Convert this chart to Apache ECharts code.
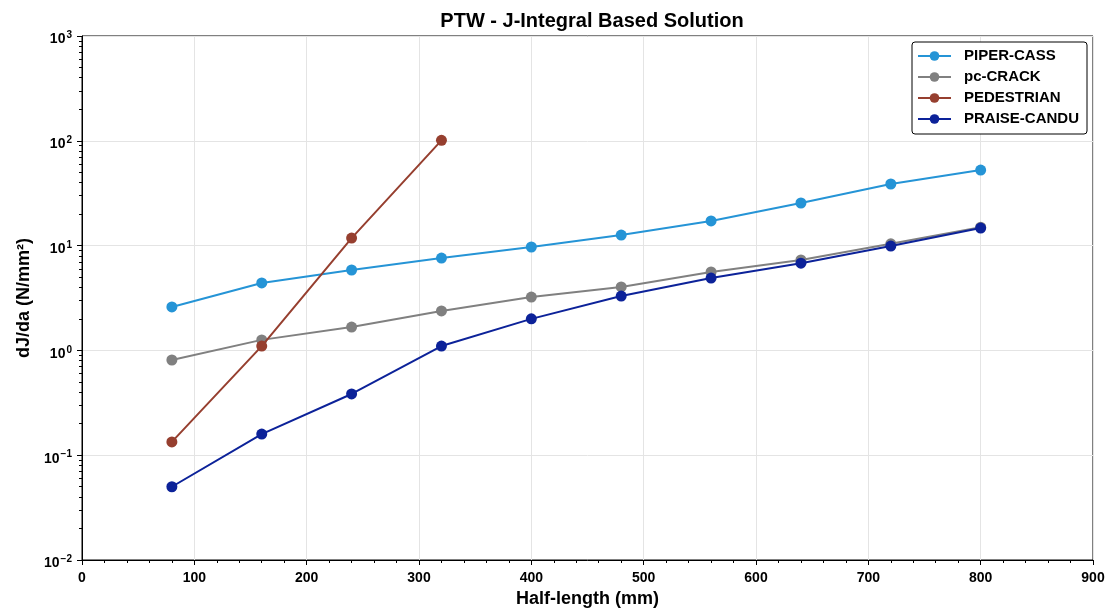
<!DOCTYPE html>
<html>
<head>
<meta charset="utf-8">
<script src="https://cdn.jsdelivr.net/npm/echarts@6/dist/echarts.min.js"></script>
<style>html,body{margin:0;padding:0;background:#fff}#c{width:1108px;height:610px}</style>
</head>
<body>
<div id="c"></div>
<script>
const halfLength = [80, 160, 240, 320, 400, 480, 560, 640, 720, 800];
const piperCass = [2.6, 4.4, 5.85, 7.6, 9.7, 12.6, 17.2, 25.5, 38.7, 52.6];
const pcCrack = [0.81, 1.26, 1.67, 2.38, 3.23, 4.03, 5.6, 7.3, 10.4, 15.0];
const pedestrian = [0.134, 1.10, 11.8, 101];
const praiseCandu = [0.05, 0.159, 0.384, 1.10, 2.0, 3.3, 4.9, 6.8, 9.9, 14.7];
const yExponents = {0.01: '-2', 0.1: '-1', 1: '0', 10: '1', 100: '2', 1000: '3'};

const FONT = 'Liberation Sans, Arial, sans-serif';
const colors = ['#2594d6', '#808080', '#963f2f', '#0c2299'];

function pairs(xs, ys) { return ys.map((v, i) => [xs[i], v]); }

const seriesDefs = [
  ['PIPER-CASS', piperCass],
  ['pc-CRACK', pcCrack],
  ['PEDESTRIAN', pedestrian],
  ['PRAISE-CANDU', praiseCandu]
];

const chart = echarts.init(document.getElementById('c'), null, {renderer: 'canvas'});
chart.setOption({
  animation: false,
  color: colors,
  title: {
    text: 'PTW - J-Integral Based Solution',
    left: 587, top: 6, textAlign: 'center',
    textStyle: {fontFamily: FONT, fontSize: 20, fontWeight: 'bold', color: '#000'}
  },
  grid: {left: 82, right: 15, top: 36, bottom: 50, show: true, borderColor: '#000', borderWidth: 1,
         containLabel: false, outerBoundsMode: 'none'},
  legend: {
    left: 912, top: 42, orient: 'vertical',
    itemWidth: 33, itemHeight: 12, itemGap: 3,
    borderColor: '#000', borderWidth: 1, borderRadius: 3,
    padding: [5, 8, 6, 5],
    backgroundColor: '#fff',
    textStyle: {fontFamily: FONT, fontSize: 15, fontWeight: 'bold', color: '#000', lineHeight: 18, padding: [0, 0, 0, 8]},
    data: seriesDefs.map(d => d[0])
  },
  xAxis: {
    type: 'value', min: 0, max: 900, interval: 100,
    name: 'Half-length (mm)', nameLocation: 'middle', nameGap: 30,
    nameTextStyle: {fontFamily: FONT, fontSize: 18, fontWeight: 'bold', color: '#000'},
    axisLine: {show: true, lineStyle: {color: '#000', width: 1}},
    axisTick: {show: true, inside: false, length: 5, lineStyle: {color: '#000'}},
    minorTick: {show: true, splitNumber: 5, length: 3, lineStyle: {color: '#000'}},
    axisLabel: {fontFamily: FONT, fontSize: 14, fontWeight: 'bold', color: '#000', margin: 11},
    splitLine: {show: true, lineStyle: {color: '#e4e4e4', width: 1}}
  },
  yAxis: {
    type: 'log', logBase: 10, min: 0.01, max: 1000,
    name: 'dJ/da (N/mm²)', nameLocation: 'middle', nameGap: 40, nameRotate: 90,
    nameTextStyle: {fontFamily: FONT, fontSize: 18, fontWeight: 'bold', color: '#000'},
    axisLine: {show: true, lineStyle: {color: '#000', width: 1}},
    axisTick: {show: true, inside: false, length: 5, lineStyle: {color: '#000'}},
    minorTick: {show: true, splitNumber: 9, length: 3, lineStyle: {color: '#000'}},
    axisLabel: {
      fontFamily: FONT, color: '#000', margin: 10, padding: [5, 0, 0, 0],
      formatter: function (v) {
        const key = Number(v.toPrecision(3));
        const e = yExponents[key] !== undefined ? yExponents[key] : String(Math.round(Math.log10(v)));
        return '{b|10}{s|' + e.replace('-', '\u2212') + '}';
      },
      rich: {
        b: {fontFamily: FONT, fontSize: 14, fontWeight: 'bold', color: '#000', lineHeight: 16, verticalAlign: 'bottom'},
        s: {fontFamily: FONT, fontSize: 10, fontWeight: 'bold', color: '#000', lineHeight: 12, verticalAlign: 'top', padding: [0, 0, 12, 1]}
      }
    },
    splitLine: {show: true, lineStyle: {color: '#e4e4e4', width: 1}}
  },
  series: seriesDefs.map((d, i) => ({
    name: d[0], type: 'line',
    data: pairs(halfLength, d[1]),
    symbol: 'circle', symbolSize: 11,
    lineStyle: {width: 2, color: colors[i]},
    itemStyle: {color: colors[i]},
    z: 2 + i
  }))
});
</script>
</body>
</html>
